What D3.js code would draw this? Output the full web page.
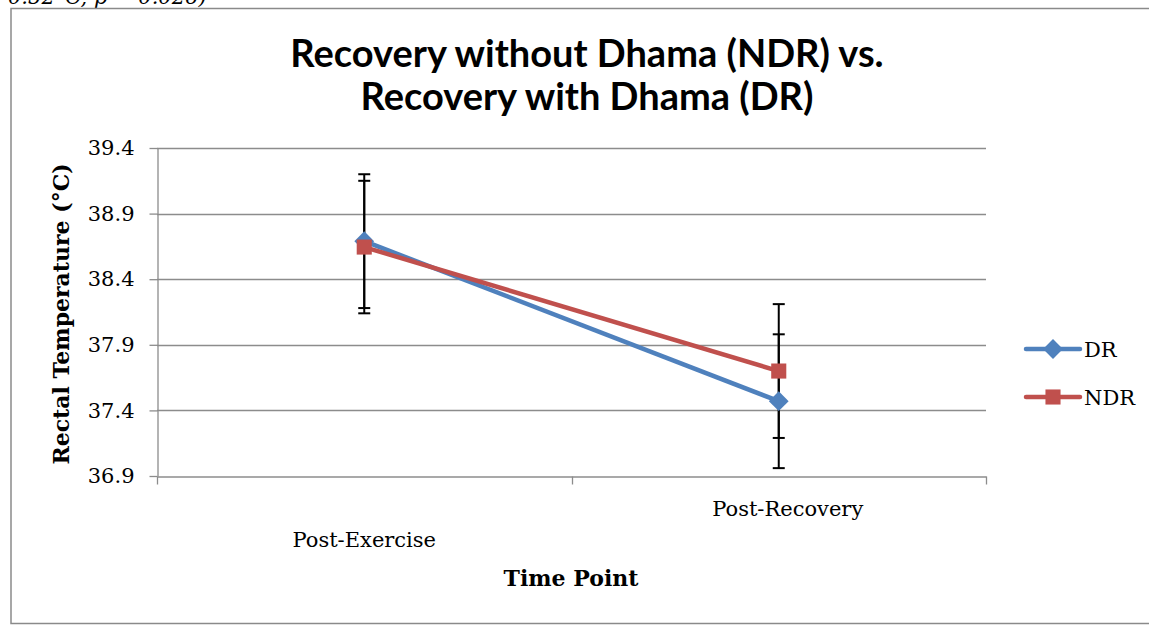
<!DOCTYPE html>
<html>
<head>
<meta charset="utf-8">
<script src="https://cdn.jsdelivr.net/npm/d3@7"></script>
<style>
	body { margin: 0; background: #fff; }
	svg { display: block; }
</style>
</head>
<body>
<div id="chart"></div>
<script>
// Data
var timePoints = ["Post-Exercise", "Post-Recovery"];
var seriesNames = ["DR", "NDR"];
var drValues = [38.69, 37.47];
var ndrValues = [38.645, 37.70];
var drErrors = [0.51, 0.51];
var ndrErrors = [0.505, 0.51];
var yTicks = [36.9, 37.4, 37.9, 38.4, 38.9, 39.4];

var width = 1149,
	height = 626;
var marginLeft = 157,
	marginRight = 163,
	marginTop = 148,
	marginBottom = 150;

var colors = { DR: "#4f81bd", NDR: "#c0504d" };
var serif = "DejaVu Serif";
var series = [
	{ name: "DR", values: drValues, errors: drErrors },
	{ name: "NDR", values: ndrValues, errors: ndrErrors },
];

var svg = d3
	.select("#chart")
	.append("svg")
	.attr("width", width)
	.attr("height", height);

// caption line above the chart frame (only its lower part shows)
svg
	.append("text")
	.attr("x", 8)
	.attr("y", 4)
	.style("font-family", serif)
	.style("font-style", "italic")
	.style("font-size", "21px")
	.text("0.52°C, p = 0.026)");

// chart frame
svg
	.append("rect")
	.attr("x", 11)
	.attr("y", 8.5)
	.attr("width", 1160)
	.attr("height", 615)
	.attr("fill", "#fff")
	.attr("stroke", "#8a8a8a")
	.attr("stroke-width", 1.5);

// scales
var x = d3
	.scaleBand()
	.domain(timePoints)
	.range([marginLeft, width - marginRight]);

var y = d3
	.scaleLinear()
	.domain([36.9, 39.4])
	.range([height - marginBottom, marginTop]);

// gridlines
svg
	.append("g")
	.selectAll("line")
	.data(yTicks.slice(1))
	.join("line")
	.attr("x1", marginLeft)
	.attr("x2", width - marginRight)
	.attr("y1", (d) => Math.round(y(d)) + 0.5)
	.attr("y2", (d) => Math.round(y(d)) + 0.5)
	.attr("stroke", "#8c8c8c")
	.attr("stroke-width", 1.3);

// y axis
svg
	.append("g")
	.attr("transform", `translate(${marginLeft + 0.5},0)`)
	.call(
		d3
			.axisLeft(y)
			.tickValues(yTicks)
			.tickFormat(d3.format(".1f"))
			.tickSize(8)
			.tickSizeOuter(0)
			.tickPadding(15)
	)
	.call((g) => g.selectAll("line, path").attr("stroke", "#8c8c8c").attr("stroke-width", 1.3))
	.call((g) =>
		g
			.selectAll("text")
			.attr("fill", "#000")
			.style("font-family", serif)
			.style("font-size", "21px")
	);

// x axis
var xAxis = svg
	.append("g")
	.attr("transform", `translate(0,${Math.round(y(36.9)) + 0.5})`)
	.call(d3.axisBottom(x).tickSize(0).tickSizeOuter(0).tickFormat(""))
	.call((g) => g.select(".domain").attr("stroke", "#8c8c8c").attr("stroke-width", 1.3));

// category boundary ticks
var bounds = [marginLeft, marginLeft + x.step(), width - marginRight];
xAxis
	.selectAll(".bound")
	.data(bounds)
	.join("line")
	.attr("x1", (d) => Math.round(d) + 0.5)
	.attr("x2", (d) => Math.round(d) + 0.5)
	.attr("y1", 0)
	.attr("y2", 8)
	.attr("stroke", "#8c8c8c")
	.attr("stroke-width", 1.3);

// staggered category labels
svg
	.append("g")
	.selectAll("text")
	.data(timePoints)
	.join("text")
	.attr("x", (d, i) => x(d) + x.bandwidth() / 2 + (i == 1 ? 9 : 0))
	.attr("y", (d, i) => (i == 0 ? 547 : 516))
	.attr("text-anchor", "middle")
	.style("font-family", serif)
	.style("font-size", "21px")
	.text((d) => d);

// axis titles
svg
	.append("text")
	.attr("x", 571)
	.attr("y", 586)
	.attr("text-anchor", "middle")
	.style("font-family", serif)
	.style("font-weight", "bold")
	.style("font-size", "22px")
	.text("Time Point");

svg
	.append("text")
	.attr("transform", "translate(69,314) rotate(-90)")
	.attr("text-anchor", "middle")
	.style("font-family", serif)
	.style("font-weight", "bold")
	.style("font-size", "22px")
	.text("Rectal Temperature (°C)");

// title
var title = svg
	.append("text")
	.attr("text-anchor", "middle")
	.style("font-family", "Lato")
	.style("font-weight", "bold")
	.style("font-size", "38px");
title.append("tspan").attr("x", 587).attr("y", 67).text("Recovery without Dhama (NDR) vs.");
title.append("tspan").attr("x", 587).attr("y", 110).text("Recovery with Dhama (DR)");

var cx = (d) => x(d) + x.bandwidth() / 2;

// error bars (behind the lines)
series.forEach(function (s) {
	var g = svg.append("g");
	timePoints.forEach(function (t, i) {
		var top = y(s.values[i] + s.errors[i]);
		var bot = y(s.values[i] - s.errors[i]);
		g.append("line")
			.attr("x1", cx(t))
			.attr("x2", cx(t))
			.attr("y1", top)
			.attr("y2", bot)
			.attr("stroke", "#000")
			.attr("stroke-width", 2);
		[top, bot].forEach(function (v) {
			g.append("line")
				.attr("x1", cx(t) - 6)
				.attr("x2", cx(t) + 6)
				.attr("y1", v)
				.attr("y2", v)
				.attr("stroke", "#000")
				.attr("stroke-width", 2);
		});
	});
});

// lines + markers
var line = d3
	.line()
	.x((d, i) => cx(timePoints[i]))
	.y((d) => y(d));

var diamond = d3.symbol().type(d3.symbolDiamond2).size(250);
var square = d3.symbol().type(d3.symbolSquare2).size(290);

series.forEach(function (s) {
	svg
		.append("path")
		.attr("d", line(s.values))
		.attr("fill", "none")
		.attr("stroke", colors[s.name])
		.attr("stroke-width", 4.5);
	svg
		.append("g")
		.selectAll("path")
		.data(s.values)
		.join("path")
		.attr("transform", (d, i) => `translate(${cx(timePoints[i])},${y(d)})`)
		.attr("d", s.name == "DR" ? diamond() : square())
		.attr("fill", colors[s.name]);
});

// legend
var legend = svg
	.append("g")
	.selectAll("g")
	.data(seriesNames)
	.join("g")
	.attr("transform", (d, i) => `translate(1026,${349 + i * 48})`);

legend
	.append("line")
	.attr("x1", 0)
	.attr("x2", 54)
	.attr("stroke", (d) => colors[d])
	.attr("stroke-width", 4.5)
	.attr("stroke-linecap", "round");
legend
	.append("path")
	.attr("transform", "translate(27,0)")
	.attr("d", (d) => (d == "DR" ? diamond() : square()))
	.attr("fill", (d) => colors[d]);
legend
	.append("text")
	.attr("x", 58)
	.attr("y", 8)
	.style("font-family", serif)
	.style("font-size", "21px")
	.text((d) => d);
</script>
</body>
</html>
